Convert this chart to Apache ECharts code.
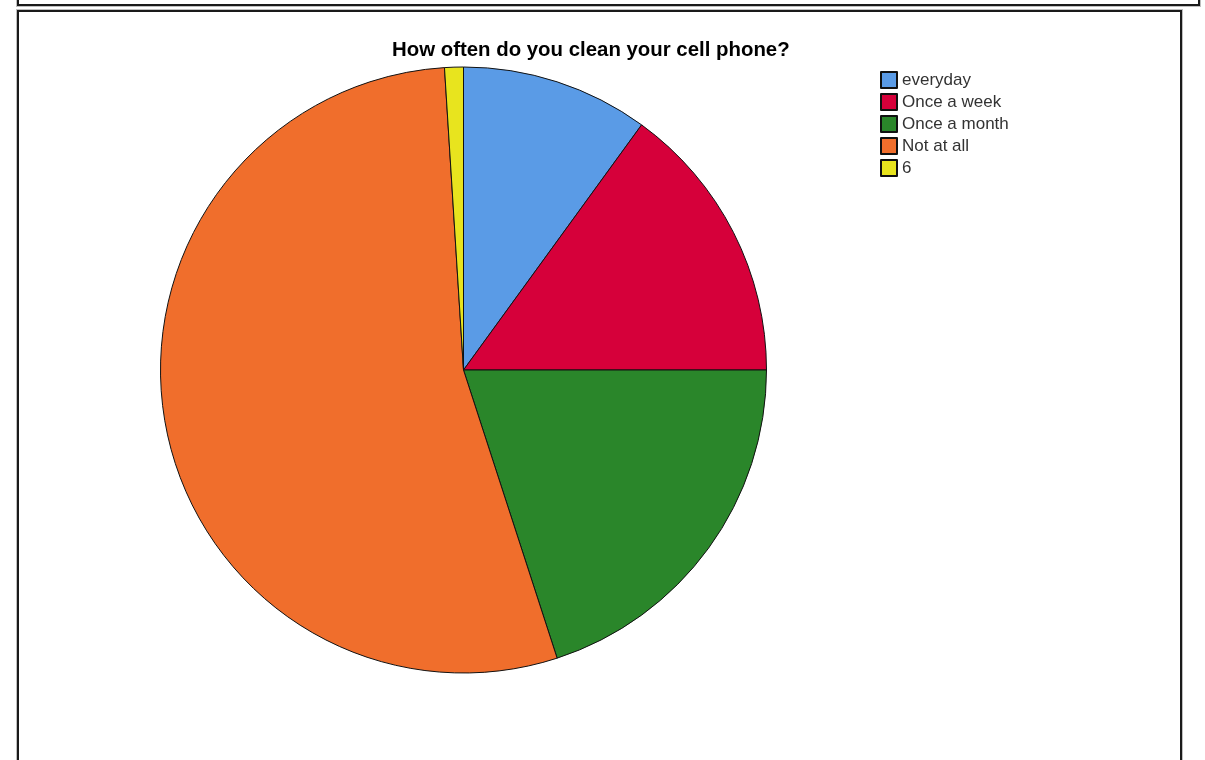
<!DOCTYPE html>
<html>
<head>
<meta charset="utf-8">
<script src="https://cdn.jsdelivr.net/npm/echarts@6/dist/echarts.min.js"></script>
<style>
  html, body { margin: 0; padding: 0; background: #fff; }
  #chart { position: absolute; left: 0; top: 0; width: 1205px; height: 760px; }
  .frame { position: absolute; box-sizing: border-box; border: 2px solid #1a1a1a; box-shadow: 0 0 0 1px rgba(0,0,0,0.25); pointer-events: none; }
</style>
</head>
<body>
<div id="chart"></div>
<div class="frame" style="left:17px; top:-10px; width:1183px; height:16px;"></div>
<div class="frame" style="left:17px; top:10px; width:1165px; height:780px;"></div>
<script>
  // Survey responses: how often people clean their phone
  const chartTitle = 'How often do you clean your cell phone?';
  const categories = ['everyday', 'Once a week', 'Once a month', 'Not at all', '6'];
  const counts = [10, 15, 20, 54, 1];
  const sliceColors = ['#5A9BE6', '#D6003A', '#2A862A', '#F06E2C', '#E8E41E'];

  const chart = echarts.init(document.getElementById('chart'), null, { renderer: 'canvas' });

  chart.setOption({
    backgroundColor: 'transparent',
    animation: false,
    graphic: [{
      type: 'text',
      left: 392,
      top: 40,
      style: {
        text: chartTitle,
        font: 'bold 20.4px "Liberation Sans", Arial, sans-serif',
        fill: '#000'
      }
    }],
    legend: {
      orient: 'vertical',
      left: 880,
      top: 71,
      padding: 0,
      icon: 'rect',
      itemWidth: 16,
      itemHeight: 16,
      itemGap: 4,
      data: categories,
      textStyle: {
        fontFamily: '"Liberation Sans", Arial, sans-serif',
        fontSize: 17,
        lineHeight: 16,
        color: '#333'
      }
    },
    series: [{
      type: 'pie',
      center: [463.5, 370],
      radius: 303,
      startAngle: 90,
      clockwise: true,
      label: { show: false },
      labelLine: { show: false },
      emphasis: { disabled: true },
      itemStyle: { borderColor: '#111', borderWidth: 1 },
      data: categories.map((name, i) => ({
        name: name,
        value: counts[i],
        itemStyle: { color: sliceColors[i] }
      }))
    }]
  });
</script>
</body>
</html>
